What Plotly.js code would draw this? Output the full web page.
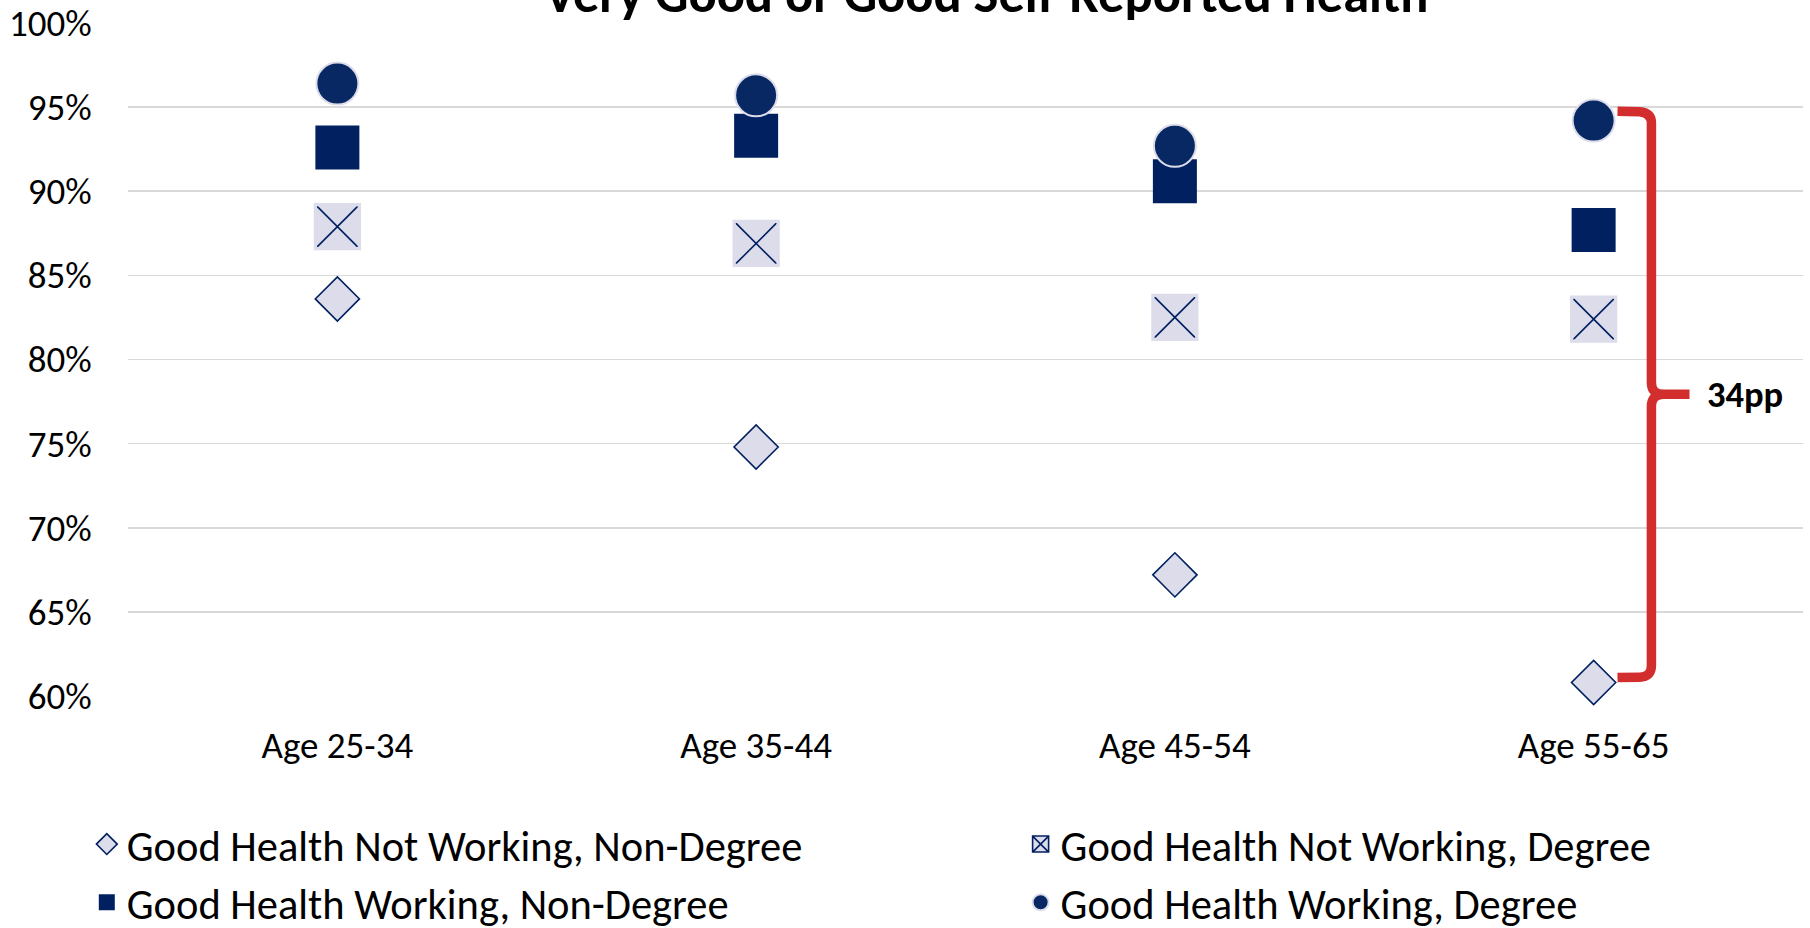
<!DOCTYPE html>
<html>
<head>
<meta charset="utf-8">
<script src="https://cdn.plot.ly/plotly-3.0.1.min.js"></script>
<style>
  html, body { margin: 0; padding: 0; background: #ffffff; }
  #chart { width: 1810px; height: 928px; }
</style>
</head>
<body>
<div id="chart"></div>
<script>
// ---- data ----
const categories = ['Age 25-34', 'Age 35-44', 'Age 45-54', 'Age 55-65'];
const notWorkingNonDegree = [0.836, 0.748, 0.672, 0.608];
const notWorkingDegree    = [0.879, 0.869, 0.825, 0.824];
const workingNonDegree    = [0.926, 0.933, 0.906, 0.877];
const workingDegree       = [0.964, 0.957, 0.927, 0.942];
const seriesNames = [
  'Good Health Not Working, Non-Degree',
  'Good Health Not Working, Degree',
  'Good Health Working, Non-Degree',
  'Good Health Working, Degree'
];
const yTickVals = [0.60, 0.65, 0.70, 0.75, 0.80, 0.85, 0.90, 0.95, 1.00];
const yTickText = ['60%', '65%', '70%', '75%', '80%', '85%', '90%', '95%', '100%'];
const gapLabel = '34pp';
const chartTitle = 'Very Good or Good Self-Reported Health';

(function () {
// ---- styling ----
const NAVY = '#002060';
const NAVY_DOT = '#082864';
const LAVENDER = '#DCDCEB';
const RED = '#D32E2E';
const FONT = 'Carlito, Calibri, Lato, sans-serif';

const traces = [
  {
    type: 'scatter', mode: 'markers', x: categories, y: notWorkingNonDegree,
    name: seriesNames[0], cliponaxis: false, legend: 'legend',
    marker: { symbol: 'diamond', size: 34, color: LAVENDER, line: { color: NAVY, width: 1.6 } }
  },
  {
    type: 'scatter', mode: 'markers', x: categories, y: notWorkingDegree,
    name: seriesNames[1], cliponaxis: false, legend: 'legend2',
    marker: { symbol: 'square-x', size: 44, color: LAVENDER, line: { color: NAVY, width: 1.6 } }
  },
  {
    type: 'scatter', mode: 'markers', x: categories, y: notWorkingDegree,
    name: seriesNames[1], showlegend: false, hoverinfo: 'skip', cliponaxis: false,
    marker: { symbol: 'square-open', size: 44, color: LAVENDER, line: { color: LAVENDER, width: 3.2 } }
  },
  {
    type: 'scatter', mode: 'markers', x: categories, y: workingNonDegree,
    name: seriesNames[2], cliponaxis: false, legend: 'legend',
    marker: { symbol: 'square', size: 44, color: NAVY, line: { color: NAVY, width: 0 } }
  },
  {
    type: 'scatter', mode: 'markers', x: categories, y: workingDegree,
    name: seriesNames[3], cliponaxis: false, legend: 'legend2',
    marker: { symbol: 'circle', size: 42, color: NAVY_DOT, line: { color: '#DCDCEB', width: 2 } }
  }
];

const last = categories.length - 1;
const bTop = workingDegree[last] + 0.0056;
const bBot = notWorkingNonDegree[last] + 0.003;
const bMid = (bTop + bBot) / 2;
const px = i => (i + 0.5) / categories.length;
const xArm = px(last + 0.057), xArm2 = px(last + 0.110), xV = px(last + 0.138);
const xTip0 = px(last + 0.167), xTip = px(last + 0.229);
const rr = 0.0071;
const bracePath =
  `M${xArm},${bTop} L${xArm2},${bTop - 0.0003} Q${xV},${bTop - 0.0009} ${xV},${bTop - rr}` +
  ` L${xV},${bMid + rr} Q${xV},${bMid} ${xTip0},${bMid} L${xTip},${bMid}` +
  ` M${xTip0},${bMid} Q${xV},${bMid} ${xV},${bMid - rr}` +
  ` L${xV},${bBot + rr} Q${xV},${bBot + 0.0003} ${xArm2},${bBot + 0.0002} L${xArm},${bBot}`;

const legendCommon = {
  orientation: 'v', xref: 'paper', yref: 'paper',
  y: -0.1693, xanchor: 'left', yanchor: 'top',
  font: { family: FONT, size: 42.5, color: '#000000' },
  traceorder: 'normal', bgcolor: 'rgba(0,0,0,0)'
};

const layout = {
  width: 1810, height: 928,
  paper_bgcolor: '#ffffff', plot_bgcolor: '#ffffff',
  margin: { l: 127.5, r: 6.5, t: 23, b: 232, autoexpand: false },
  font: { family: FONT, color: '#000000', size: 37 },
  title: {
    text: '<b>' + chartTitle + '</b>',
    font: { family: FONT, size: 52.5, color: '#000000' },
    xref: 'container', x: 0.545, xanchor: 'center',
    yref: 'container', y: 1 - 12 / 928, yanchor: 'bottom'
  },
  xaxis: {
    type: 'category', range: [-0.5, 3.5],
    showgrid: false, zeroline: false, showline: false, ticks: '',
    tickfont: { family: FONT, size: 37, color: '#000000' },
    ticklabelstandoff: 24, fixedrange: true, automargin: false
  },
  yaxis: {
    range: [0.6, 1.0], tickvals: yTickVals, ticktext: yTickText,
    showgrid: true, gridcolor: '#D9D9D9', gridwidth: 1.6,
    zeroline: false, showline: false,
    ticks: 'outside', ticklen: 28, tickcolor: 'rgba(0,0,0,0)', tickwidth: 1,
    tickfont: { family: FONT, size: 37, color: '#000000' },
    fixedrange: true, automargin: false
  },
  showlegend: true,
  legend: Object.assign({}, legendCommon, { x: -0.0246 }),
  legend2: Object.assign({}, legendCommon, { x: 0.5329 }),
  shapes: [
    {
      type: 'path', xref: 'paper', yref: 'y', path: bracePath,
      line: { color: RED, width: 9.5 }, layer: 'above'
    }
  ],
  annotations: [
    {
      xref: 'paper', yref: 'y', x: px(last + 0.265), y: bMid,
      xanchor: 'left', yanchor: 'middle', showarrow: false,
      text: '<b>' + gapLabel + '</b>',
      font: { family: FONT, size: 36.5, color: '#000000' }
    }
  ]
};

Plotly.newPlot('chart', traces, layout, { displayModeBar: false, staticPlot: true });
})();
</script>
</body>
</html>
